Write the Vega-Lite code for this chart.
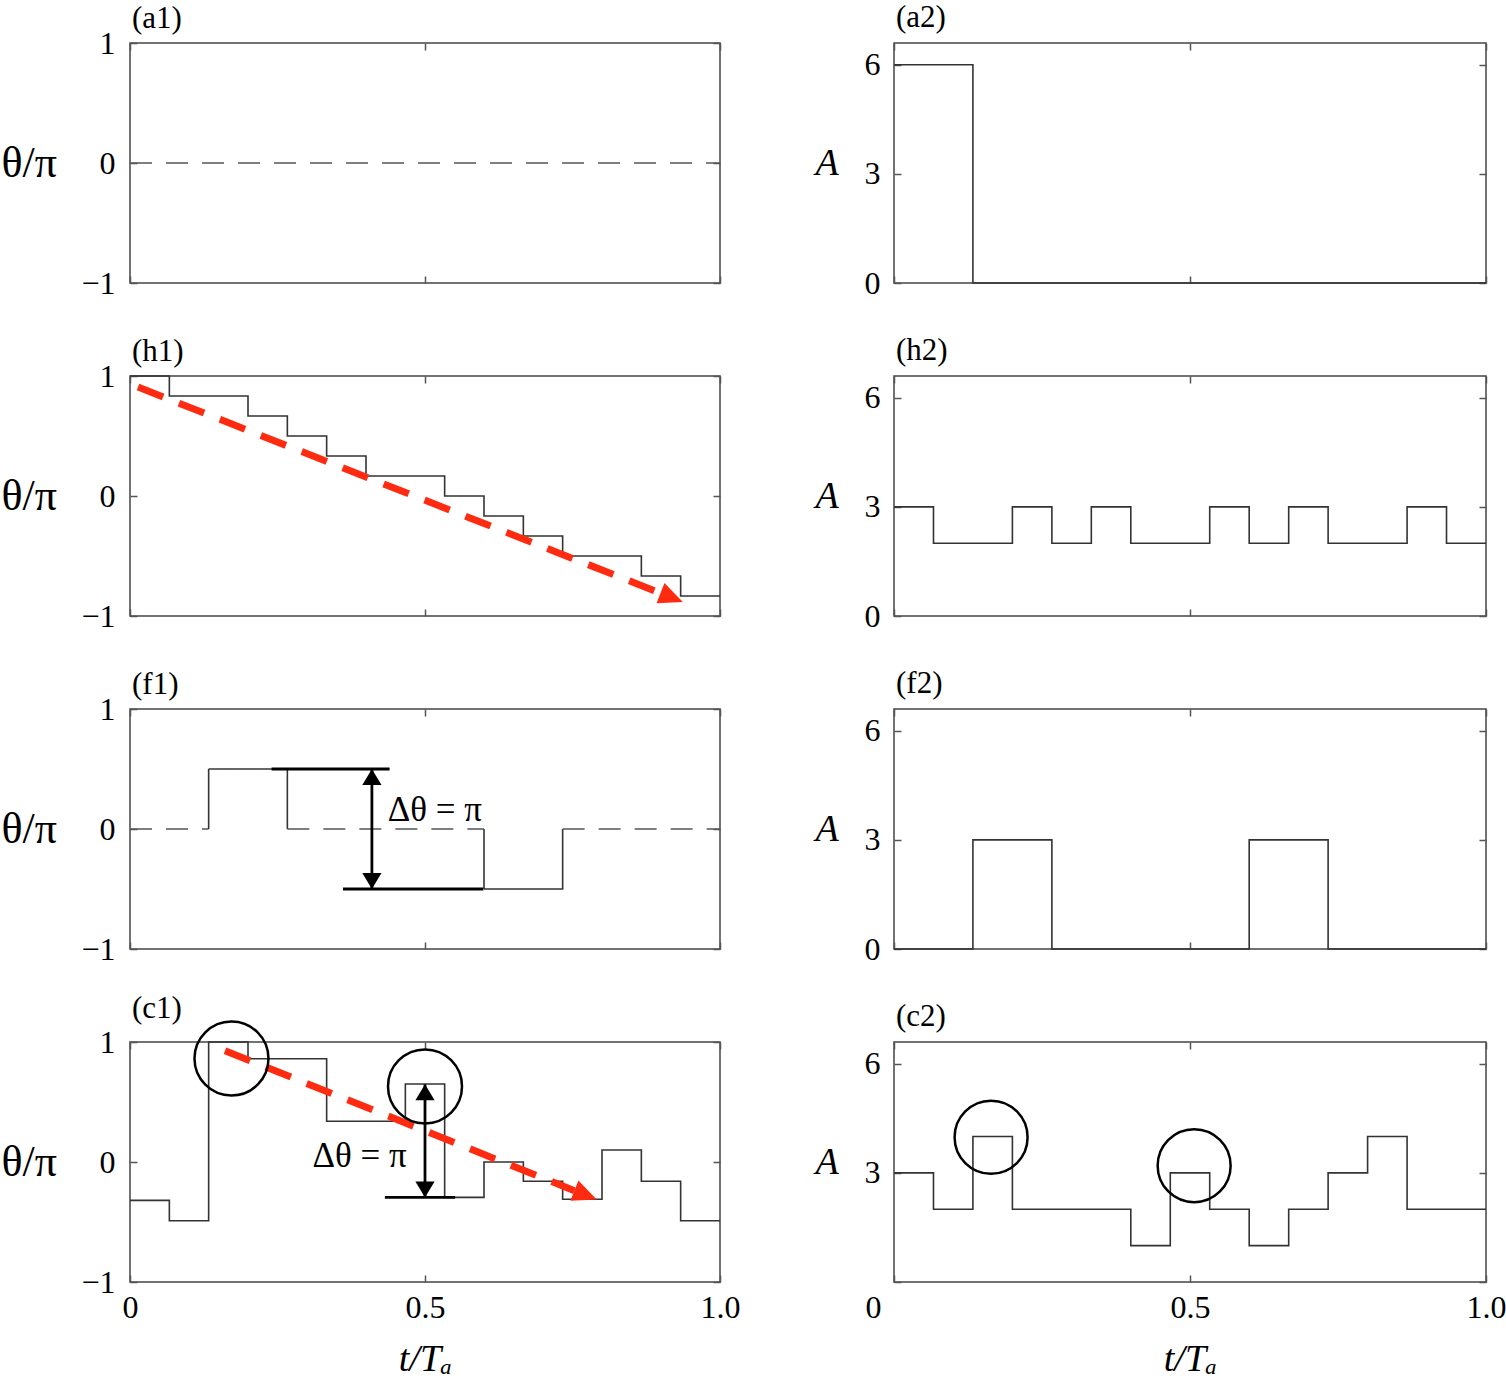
{
  "$schema": "https://vega.github.io/schema/vega-lite/v6.json",
  "background": "white",
  "padding": {"left": 0, "top": 1, "right": 2, "bottom": 2},
  "columns": 2,
  "spacing": {"row": 93, "column": 174},
  "bounds": "flush",
  "config": {
    "view": {"stroke": "#444", "strokeWidth": 1.5},
    "axis": {"labelFont": "Liberation Serif", "labelFontSize": 32, "labelColor": "black", "titleFont": "Liberation Serif", "titleFontSize": 38, "titleFontWeight": "normal", "titleColor": "black", "domain": false, "grid": false, "tickColor": "#555", "tickSize": -7, "tickWidth": 1.5, "labelFlush": false, "labelOverlap": false},
    "title": {"anchor": "start", "frame": "group", "font": "Liberation Serif", "fontSize": 31, "fontWeight": "normal", "color": "black", "offset": 6, "dx": 2},
    "text": {"font": "Liberation Serif"}
  },
  "concat": [
    {
      "width": 590, "height": 240, "title": {"text": "(a1)", "dy": 14},
      "layer": [
        {"data": {"values": [{"t": 0, "v": 0}, {"t": 1, "v": 0}]},
         "mark": {"type": "line", "color": "#555", "strokeWidth": 1.6, "strokeDash": [22, 14]},
         "encoding": {
           "x": {"field": "t", "type": "quantitative", "scale": {"domain": [0, 1], "nice": false}, "axis": {"orient": "bottom", "values": [0, 0.5, 1], "labels": false, "title": null}},
           "y": {"field": "v", "type": "quantitative", "scale": {"domain": [-1, 1], "nice": false}, "axis": {"orient": "left", "values": [-1, 0, 1], "labelExpr": "datum.value > 0.5 ? '1' : datum.value < -0.5 ? '−1' : '0'", "title": "θ/π", "titleFontSize": 44, "titleAngle": 0, "titleAlign": "left", "titleBaseline": "middle", "titleX": -129, "titleY": 120, "labelPadding": 22}}}},
        {"data": {"values": [{"t": 0, "v": 0}]}, "mark": {"type": "point", "opacity": 0},
         "encoding": {
           "x": {"field": "t", "type": "quantitative", "scale": {"domain": [0, 1], "nice": false}, "axis": {"orient": "top", "values": [0, 0.5, 1], "labels": false, "title": null}},
           "y": {"field": "v", "type": "quantitative", "scale": {"domain": [-1, 1], "nice": false}, "axis": {"orient": "right", "values": [-1, 0, 1], "labels": false, "title": null}}}}
      ],
      "resolve": {"axis": {"x": "independent", "y": "independent"}}
    },
    {
      "width": 592, "height": 240, "title": {"text": "(a2)", "dy": -2},
      "layer": [
        {"data": {"values": [{"t": 0, "v": 6}, {"t": 0.1333, "v": 0}, {"t": 1, "v": 0}]},
         "mark": {"type": "line", "interpolate": "step-after", "color": "#333", "strokeWidth": 1.6},
         "encoding": {
           "x": {"field": "t", "type": "quantitative", "scale": {"domain": [0, 1], "nice": false}, "axis": {"orient": "bottom", "values": [0, 0.5, 1], "labels": false, "title": null}},
           "y": {"field": "v", "type": "quantitative", "scale": {"domain": [0, 6.6], "nice": false}, "axis": {"orient": "left", "values": [0, 3, 6], "title": "A", "titleFontStyle": "italic", "titleAngle": 0, "titleAlign": "left", "titleBaseline": "middle", "titleX": -79, "titleY": 120, "labelPadding": 21}}}},
        {"data": {"values": [{"t": 0, "v": 0}]}, "mark": {"type": "point", "opacity": 0},
         "encoding": {
           "x": {"field": "t", "type": "quantitative", "scale": {"domain": [0, 1], "nice": false}, "axis": {"orient": "top", "values": [0, 0.5, 1], "labels": false, "title": null}},
           "y": {"field": "v", "type": "quantitative", "scale": {"domain": [0, 6.6], "nice": false}, "axis": {"orient": "right", "values": [0, 3, 6], "labels": false, "title": null}}}}
      ],
      "resolve": {"axis": {"x": "independent", "y": "independent"}}
    },
    {
      "width": 590, "height": 240, "title": {"text": "(h1)", "dy": 14},
      "layer": [
        {"data": {"values": [
          {"t": 0, "v": 1}, {"t": 0.0667, "v": 0.833}, {"t": 0.1333, "v": 0.833}, {"t": 0.2, "v": 0.667}, {"t": 0.2667, "v": 0.5}, {"t": 0.3333, "v": 0.333}, {"t": 0.4, "v": 0.167}, {"t": 0.4667, "v": 0.167}, {"t": 0.5333, "v": 0}, {"t": 0.6, "v": -0.167}, {"t": 0.6667, "v": -0.333}, {"t": 0.7333, "v": -0.5}, {"t": 0.8, "v": -0.5}, {"t": 0.8667, "v": -0.667}, {"t": 0.9333, "v": -0.833}, {"t": 1, "v": -0.833}]},
         "mark": {"type": "line", "interpolate": "step-after", "color": "#333", "strokeWidth": 1.6},
         "encoding": {
           "x": {"field": "t", "type": "quantitative", "scale": {"domain": [0, 1], "nice": false}, "axis": {"orient": "bottom", "values": [0, 0.5, 1], "labels": false, "title": null}},
           "y": {"field": "v", "type": "quantitative", "scale": {"domain": [-1, 1], "nice": false}, "axis": {"orient": "left", "values": [-1, 0, 1], "labelExpr": "datum.value > 0.5 ? '1' : datum.value < -0.5 ? '−1' : '0'", "title": "θ/π", "titleFontSize": 44, "titleAngle": 0, "titleAlign": "left", "titleBaseline": "middle", "titleX": -129, "titleY": 120, "labelPadding": 22}}}},
        {"data": {"values": [{"t": 0, "v": 0}]}, "mark": {"type": "point", "opacity": 0},
         "encoding": {
           "x": {"field": "t", "type": "quantitative", "scale": {"domain": [0, 1], "nice": false}, "axis": {"orient": "top", "values": [0, 0.5, 1], "labels": false, "title": null}},
           "y": {"field": "v", "type": "quantitative", "scale": {"domain": [-1, 1], "nice": false}, "axis": {"orient": "right", "values": [-1, 0, 1], "labels": false, "title": null}}}},
        {"data": {"values": [{"t1": 0.0136, "v1": 0.908, "t2": 0.8995, "v2": -0.81}]},
         "mark": {"type": "rule", "color": "#ff2b10", "strokeWidth": 7, "strokeDash": [27, 17], "strokeCap": "butt"},
         "encoding": {
           "x": {"field": "t1", "type": "quantitative", "axis": null}, "x2": {"field": "t2"},
           "y": {"field": "v1", "type": "quantitative", "axis": null}, "y2": {"field": "v2"}}},
        {"data": {"values": [{"t": 0.937, "v": -0.883}]},
         "mark": {"type": "point", "shape": "M0,0L-1,-0.45L-1,0.45Z", "size": 2304, "angle": 21.5, "filled": true, "color": "#ff2b10", "opacity": 1},
         "encoding": {
           "x": {"field": "t", "type": "quantitative", "axis": null},
           "y": {"field": "v", "type": "quantitative", "axis": null}}}
      ],
      "resolve": {"axis": {"x": "independent", "y": "independent"}}
    },
    {
      "width": 592, "height": 240, "title": {"text": "(h2)", "dy": -2},
      "layer": [
        {"data": {"values": [
          {"t": 0, "v": 3}, {"t": 0.0667, "v": 2}, {"t": 0.1333, "v": 2}, {"t": 0.2, "v": 3}, {"t": 0.2667, "v": 2}, {"t": 0.3333, "v": 3}, {"t": 0.4, "v": 2}, {"t": 0.4667, "v": 2}, {"t": 0.5333, "v": 3}, {"t": 0.6, "v": 2}, {"t": 0.6667, "v": 3}, {"t": 0.7333, "v": 2}, {"t": 0.8, "v": 2}, {"t": 0.8667, "v": 3}, {"t": 0.9333, "v": 2}, {"t": 1, "v": 2}]},
         "mark": {"type": "line", "interpolate": "step-after", "color": "#333", "strokeWidth": 1.6},
         "encoding": {
           "x": {"field": "t", "type": "quantitative", "scale": {"domain": [0, 1], "nice": false}, "axis": {"orient": "bottom", "values": [0, 0.5, 1], "labels": false, "title": null}},
           "y": {"field": "v", "type": "quantitative", "scale": {"domain": [0, 6.6], "nice": false}, "axis": {"orient": "left", "values": [0, 3, 6], "title": "A", "titleFontStyle": "italic", "titleAngle": 0, "titleAlign": "left", "titleBaseline": "middle", "titleX": -79, "titleY": 120, "labelPadding": 21}}}},
        {"data": {"values": [{"t": 0, "v": 0}]}, "mark": {"type": "point", "opacity": 0},
         "encoding": {
           "x": {"field": "t", "type": "quantitative", "scale": {"domain": [0, 1], "nice": false}, "axis": {"orient": "top", "values": [0, 0.5, 1], "labels": false, "title": null}},
           "y": {"field": "v", "type": "quantitative", "scale": {"domain": [0, 6.6], "nice": false}, "axis": {"orient": "right", "values": [0, 3, 6], "labels": false, "title": null}}}}
      ],
      "resolve": {"axis": {"x": "independent", "y": "independent"}}
    },
    {
      "width": 590, "height": 240, "title": {"text": "(f1)", "dy": 14},
      "layer": [
        {"data": {"values": [
          {"seg": "d1", "ord": 1, "style": "dash", "t": 0, "v": 0}, {"seg": "d1", "ord": 2, "style": "dash", "t": 0.1333, "v": 0},
          {"seg": "s1", "ord": 1, "style": "solid", "t": 0.1333, "v": 0}, {"seg": "s1", "ord": 2, "style": "solid", "t": 0.1333, "v": 0.5}, {"seg": "s1", "ord": 3, "style": "solid", "t": 0.2667, "v": 0.5}, {"seg": "s1", "ord": 4, "style": "solid", "t": 0.2667, "v": 0},
          {"seg": "d2", "ord": 1, "style": "dash", "t": 0.2667, "v": 0}, {"seg": "d2", "ord": 2, "style": "dash", "t": 0.6, "v": 0},
          {"seg": "s2", "ord": 1, "style": "solid", "t": 0.6, "v": 0}, {"seg": "s2", "ord": 2, "style": "solid", "t": 0.6, "v": -0.5}, {"seg": "s2", "ord": 3, "style": "solid", "t": 0.7333, "v": -0.5}, {"seg": "s2", "ord": 4, "style": "solid", "t": 0.7333, "v": 0},
          {"seg": "d3", "ord": 1, "style": "dash", "t": 0.7333, "v": 0}, {"seg": "d3", "ord": 2, "style": "dash", "t": 1, "v": 0}]},
         "mark": {"type": "line", "strokeWidth": 1.6},
         "encoding": {
           "x": {"field": "t", "type": "quantitative", "scale": {"domain": [0, 1], "nice": false}, "axis": {"orient": "bottom", "values": [0, 0.5, 1], "labels": false, "title": null}},
           "y": {"field": "v", "type": "quantitative", "scale": {"domain": [-1, 1], "nice": false}, "axis": {"orient": "left", "values": [-1, 0, 1], "labelExpr": "datum.value > 0.5 ? '1' : datum.value < -0.5 ? '−1' : '0'", "title": "θ/π", "titleFontSize": 44, "titleAngle": 0, "titleAlign": "left", "titleBaseline": "middle", "titleX": -129, "titleY": 120, "labelPadding": 22}},
           "detail": {"field": "seg"},
           "order": {"field": "ord", "type": "quantitative"},
           "strokeDash": {"field": "style", "type": "nominal", "scale": {"domain": ["dash", "solid"], "range": [[22, 14], [1, 0]]}, "legend": null},
           "color": {"field": "style", "type": "nominal", "scale": {"domain": ["dash", "solid"], "range": ["#555", "#333"]}, "legend": null}}},
        {"data": {"values": [{"t": 0, "v": 0}]}, "mark": {"type": "point", "opacity": 0},
         "encoding": {
           "x": {"field": "t", "type": "quantitative", "scale": {"domain": [0, 1], "nice": false}, "axis": {"orient": "top", "values": [0, 0.5, 1], "labels": false, "title": null}},
           "y": {"field": "v", "type": "quantitative", "scale": {"domain": [-1, 1], "nice": false}, "axis": {"orient": "right", "values": [-1, 0, 1], "labels": false, "title": null}}}},
        {"data": {"values": [
          {"t1": 0.24, "t2": 0.44, "v1": 0.5, "v2": 0.5},
          {"t1": 0.361, "t2": 0.599, "v1": -0.5, "v2": -0.5},
          {"t1": 0.41, "t2": 0.41, "v1": -0.5, "v2": 0.5}]},
         "mark": {"type": "rule", "color": "black", "strokeWidth": 2.8},
         "encoding": {
           "x": {"field": "t1", "type": "quantitative", "axis": null}, "x2": {"field": "t2"},
           "y": {"field": "v1", "type": "quantitative", "axis": null}, "y2": {"field": "v2"}}},
        {"data": {"values": [{"t": 0.41, "v": 0.5, "dir": "up"}, {"t": 0.41, "v": -0.5, "dir": "down"}]},
         "mark": {"type": "point", "size": 1024, "filled": true, "color": "black", "opacity": 1},
         "encoding": {
           "x": {"field": "t", "type": "quantitative", "axis": null},
           "y": {"field": "v", "type": "quantitative", "axis": null},
           "shape": {"field": "dir", "type": "nominal", "scale": {"domain": ["up", "down"], "range": ["M0,0L-0.6,1L0.6,1Z", "M0,0L-0.6,-1L0.6,-1Z"]}, "legend": null}}},
        {"data": {"values": [{"t": 0.437, "v": 0.16, "label": "Δθ = π"}]},
         "mark": {"type": "text", "align": "left", "baseline": "middle", "fontSize": 35, "font": "Liberation Serif", "color": "black"},
         "encoding": {
           "x": {"field": "t", "type": "quantitative", "axis": null},
           "y": {"field": "v", "type": "quantitative", "axis": null},
           "text": {"field": "label"}}}
      ],
      "resolve": {"axis": {"x": "independent", "y": "independent"}}
    },
    {
      "width": 592, "height": 240, "title": {"text": "(f2)", "dy": -2},
      "layer": [
        {"data": {"values": [{"t": 0, "v": 0}, {"t": 0.1333, "v": 3}, {"t": 0.2667, "v": 0}, {"t": 0.6, "v": 3}, {"t": 0.7333, "v": 0}, {"t": 1, "v": 0}]},
         "mark": {"type": "line", "interpolate": "step-after", "color": "#333", "strokeWidth": 1.6},
         "encoding": {
           "x": {"field": "t", "type": "quantitative", "scale": {"domain": [0, 1], "nice": false}, "axis": {"orient": "bottom", "values": [0, 0.5, 1], "labels": false, "title": null}},
           "y": {"field": "v", "type": "quantitative", "scale": {"domain": [0, 6.6], "nice": false}, "axis": {"orient": "left", "values": [0, 3, 6], "title": "A", "titleFontStyle": "italic", "titleAngle": 0, "titleAlign": "left", "titleBaseline": "middle", "titleX": -79, "titleY": 120, "labelPadding": 21}}}},
        {"data": {"values": [{"t": 0, "v": 0}]}, "mark": {"type": "point", "opacity": 0},
         "encoding": {
           "x": {"field": "t", "type": "quantitative", "scale": {"domain": [0, 1], "nice": false}, "axis": {"orient": "top", "values": [0, 0.5, 1], "labels": false, "title": null}},
           "y": {"field": "v", "type": "quantitative", "scale": {"domain": [0, 6.6], "nice": false}, "axis": {"orient": "right", "values": [0, 3, 6], "labels": false, "title": null}}}}
      ],
      "resolve": {"axis": {"x": "independent", "y": "independent"}}
    },
    {
      "width": 590, "height": 240, "title": {"text": "(c1)", "dy": 14},
      "layer": [
        {"data": {"values": [
          {"t": 0, "v": -0.32}, {"t": 0.0667, "v": -0.49}, {"t": 0.1333, "v": 1}, {"t": 0.2, "v": 0.86}, {"t": 0.2667, "v": 0.86}, {"t": 0.3333, "v": 0.34}, {"t": 0.4, "v": 0.34}, {"t": 0.4667, "v": 0.65}, {"t": 0.5333, "v": -0.295}, {"t": 0.6, "v": 0}, {"t": 0.6667, "v": -0.16}, {"t": 0.7333, "v": -0.31}, {"t": 0.8, "v": 0.1}, {"t": 0.8667, "v": -0.16}, {"t": 0.9333, "v": -0.49}, {"t": 1, "v": -0.49}]},
         "mark": {"type": "line", "interpolate": "step-after", "color": "#333", "strokeWidth": 1.6},
         "encoding": {
           "x": {"field": "t", "type": "quantitative", "scale": {"domain": [0, 1], "nice": false}, "axis": {"orient": "bottom", "values": [0, 0.5, 1], "labelExpr": "datum.value == 0 ? '0' : format(datum.value, '.1f')", "labelPadding": 17, "title": "t/Tₐ", "titleFontStyle": "italic", "titleY": 88, "titleBaseline": "alphabetic"}},
           "y": {"field": "v", "type": "quantitative", "scale": {"domain": [-1, 1], "nice": false}, "axis": {"orient": "left", "values": [-1, 0, 1], "labelExpr": "datum.value > 0.5 ? '1' : datum.value < -0.5 ? '−1' : '0'", "title": "θ/π", "titleFontSize": 44, "titleAngle": 0, "titleAlign": "left", "titleBaseline": "middle", "titleX": -129, "titleY": 120, "labelPadding": 22}}}},
        {"data": {"values": [{"t": 0, "v": 0}]}, "mark": {"type": "point", "opacity": 0},
         "encoding": {
           "x": {"field": "t", "type": "quantitative", "scale": {"domain": [0, 1], "nice": false}, "axis": {"orient": "top", "values": [0, 0.5, 1], "labels": false, "title": null}},
           "y": {"field": "v", "type": "quantitative", "scale": {"domain": [-1, 1], "nice": false}, "axis": {"orient": "right", "values": [-1, 0, 1], "labels": false, "title": null}}}},
        {"data": {"values": [{"t1": 0.161, "v1": 0.928, "t2": 0.7532, "v2": -0.239}]},
         "mark": {"type": "rule", "color": "#ff2b10", "strokeWidth": 7, "strokeDash": [27, 17], "strokeCap": "butt"},
         "encoding": {
           "x": {"field": "t1", "type": "quantitative", "axis": null}, "x2": {"field": "t2"},
           "y": {"field": "v1", "type": "quantitative", "axis": null}, "y2": {"field": "v2"}}},
        {"data": {"values": [{"t": 0.791, "v": -0.313}]},
         "mark": {"type": "point", "shape": "M0,0L-1,-0.45L-1,0.45Z", "size": 2304, "angle": 21.85, "filled": true, "color": "#ff2b10", "opacity": 1},
         "encoding": {
           "x": {"field": "t", "type": "quantitative", "axis": null},
           "y": {"field": "v", "type": "quantitative", "axis": null}}},
        {"data": {"values": [
          {"t1": 0.432, "t2": 0.551, "v1": -0.295, "v2": -0.295},
          {"t1": 0.5, "t2": 0.5, "v1": -0.295, "v2": 0.647}]},
         "mark": {"type": "rule", "color": "black", "strokeWidth": 2.8},
         "encoding": {
           "x": {"field": "t1", "type": "quantitative", "axis": null}, "x2": {"field": "t2"},
           "y": {"field": "v1", "type": "quantitative", "axis": null}, "y2": {"field": "v2"}}},
        {"data": {"values": [{"t": 0.5, "v": 0.647, "dir": "up"}, {"t": 0.5, "v": -0.295, "dir": "down"}]},
         "mark": {"type": "point", "size": 1024, "filled": true, "color": "black", "opacity": 1},
         "encoding": {
           "x": {"field": "t", "type": "quantitative", "axis": null},
           "y": {"field": "v", "type": "quantitative", "axis": null},
           "shape": {"field": "dir", "type": "nominal", "scale": {"domain": ["up", "down"], "range": ["M0,0L-0.6,1L0.6,1Z", "M0,0L-0.6,-1L0.6,-1Z"]}, "legend": null}}},
        {"data": {"values": [{"t": 0.172, "v": 0.862}, {"t": 0.5, "v": 0.63}]},
         "mark": {"type": "point", "shape": "circle", "size": 5476, "filled": false, "color": "black", "strokeWidth": 2.5, "opacity": 1},
         "encoding": {
           "x": {"field": "t", "type": "quantitative", "axis": null},
           "y": {"field": "v", "type": "quantitative", "axis": null}}},
        {"data": {"values": [{"t": 0.469, "v": 0.05, "label": "Δθ = π"}]},
         "mark": {"type": "text", "align": "right", "baseline": "middle", "fontSize": 35, "font": "Liberation Serif", "color": "black"},
         "encoding": {
           "x": {"field": "t", "type": "quantitative", "axis": null},
           "y": {"field": "v", "type": "quantitative", "axis": null},
           "text": {"field": "label"}}}
      ],
      "resolve": {"axis": {"x": "independent", "y": "independent"}}
    },
    {
      "width": 592, "height": 240, "title": {"text": "(c2)", "dy": -2},
      "layer": [
        {"data": {"values": [
          {"t": 0, "v": 3}, {"t": 0.0667, "v": 2}, {"t": 0.1333, "v": 4}, {"t": 0.2, "v": 2}, {"t": 0.2667, "v": 2}, {"t": 0.3333, "v": 2}, {"t": 0.4, "v": 1}, {"t": 0.4667, "v": 3}, {"t": 0.5333, "v": 2}, {"t": 0.6, "v": 1}, {"t": 0.6667, "v": 2}, {"t": 0.7333, "v": 3}, {"t": 0.8, "v": 4}, {"t": 0.8667, "v": 2}, {"t": 0.9333, "v": 2}, {"t": 1, "v": 2}]},
         "mark": {"type": "line", "interpolate": "step-after", "color": "#333", "strokeWidth": 1.6},
         "encoding": {
           "x": {"field": "t", "type": "quantitative", "scale": {"domain": [0, 1], "nice": false}, "axis": {"orient": "bottom", "values": [0, 0.5, 1], "labelExpr": "datum.value == 0 ? '0' : format(datum.value, '.1f')", "labelOffset": {"condition": {"test": "datum.value == 0", "value": -21}, "value": 0}, "labelPadding": 17, "title": "t/Tₐ", "titleFontStyle": "italic", "titleY": 88, "titleBaseline": "alphabetic"}},
           "y": {"field": "v", "type": "quantitative", "scale": {"domain": [0, 6.6], "nice": false}, "axis": {"orient": "left", "values": [0, 3, 6], "labelExpr": "datum.value == 0 ? '' : datum.label", "title": "A", "titleFontStyle": "italic", "titleAngle": 0, "titleAlign": "left", "titleBaseline": "middle", "titleX": -79, "titleY": 120, "labelPadding": 21}}}},
        {"data": {"values": [{"t": 0, "v": 0}]}, "mark": {"type": "point", "opacity": 0},
         "encoding": {
           "x": {"field": "t", "type": "quantitative", "scale": {"domain": [0, 1], "nice": false}, "axis": {"orient": "top", "values": [0, 0.5, 1], "labels": false, "title": null}},
           "y": {"field": "v", "type": "quantitative", "scale": {"domain": [0, 6.6], "nice": false}, "axis": {"orient": "right", "values": [0, 3, 6], "labels": false, "title": null}}}},
        {"data": {"values": [{"t": 0.164, "v": 3.98}, {"t": 0.507, "v": 3.2}]},
         "mark": {"type": "point", "shape": "circle", "size": 5329, "filled": false, "color": "black", "strokeWidth": 2.5, "opacity": 1},
         "encoding": {
           "x": {"field": "t", "type": "quantitative", "axis": null},
           "y": {"field": "v", "type": "quantitative", "axis": null}}}
      ],
      "resolve": {"axis": {"x": "independent", "y": "independent"}}
    }
  ]
}
